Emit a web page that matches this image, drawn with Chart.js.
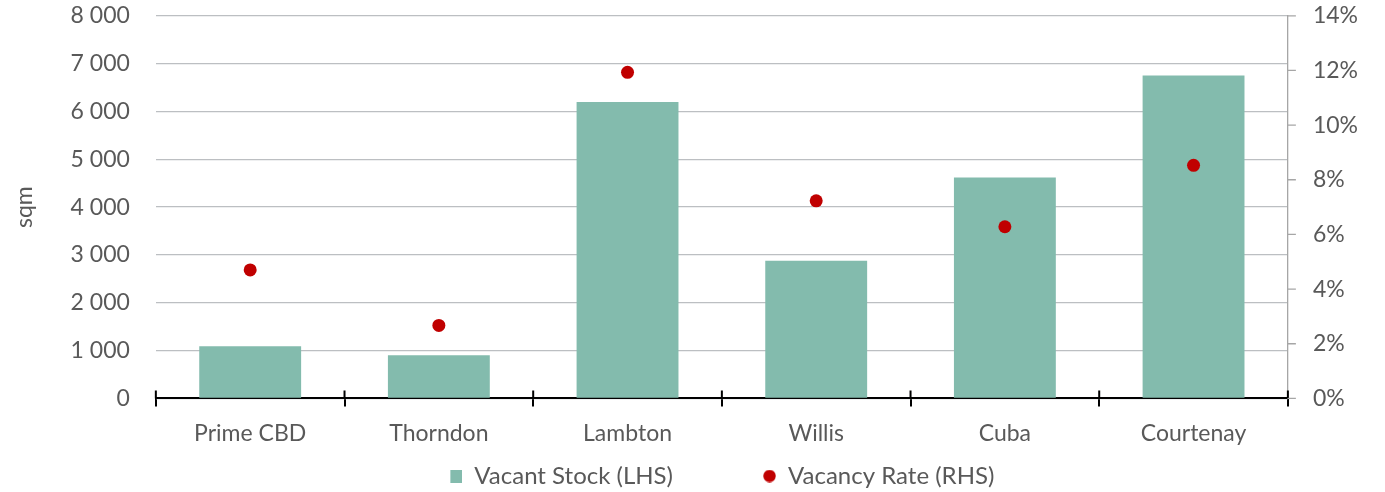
<!DOCTYPE html>
<html>
<head>
<meta charset="utf-8">
<script src="https://cdn.jsdelivr.net/npm/chart.js@4"></script>
<style>
  html, body { margin: 0; padding: 0; background: #fff; }
  #wrap { width: 1385px; height: 492px; }
</style>
</head>
<body>
<div id="wrap"><canvas id="vacancyChart"></canvas></div>
<script>
// Wellington office vacancy by precinct
var categories = ['Prime CBD', 'Thorndon', 'Lambton', 'Willis', 'Cuba', 'Courtenay'];
var vacantStock = [1090, 900, 6200, 2880, 4620, 6750];   // sqm, LHS
var vacancyRate = [4.7, 2.67, 11.93, 7.23, 6.28, 8.53];  // %, RHS
var stockTicks = [0, 1000, 2000, 3000, 4000, 5000, 6000, 7000, 8000];
var rateTicks = [0, 2, 4, 6, 8, 10, 12, 14];

var textColor = '#595959';
var barColor = '#83BBAD';
var dotColor = '#C00000';
var fontFamily = 'Lato, "Open Sans", sans-serif';

function spaced(v) {
  return String(v).replace(/\B(?=(\d{3})+(?!\d))/g, ' ');
}

// small legend markers (square for bars, dot for the rate)
function legendMarker(shape, color) {
  var c = document.createElement('canvas');
  c.width = 13;
  c.height = 13;
  var g = c.getContext('2d');
  g.fillStyle = color;
  if (shape === 'circle') {
    g.beginPath();
    g.arc(6.5, 6.5, 6.2, 0, Math.PI * 2);
    g.fill();
  } else {
    g.fillRect(1, 0, 12, 13);
  }
  return c;
}
var squareMarker = legendMarker('rect', barColor);
var dotMarker = legendMarker('circle', dotColor);

// Excel style ticks: cross ticks on the category axis, short outside ticks on the RHS axis
var axisTicks = {
  id: 'axisTicks',
  afterDraw: function (chart) {
    var x = chart.scales.x;
    var y1 = chart.scales.y1;
    var n = chart.data.labels.length;
    var ctx = chart.ctx;
    ctx.save();
    ctx.strokeStyle = '#000';
    ctx.lineWidth = 2;
    ctx.beginPath();
    for (var i = 0; i <= n; i++) {
      var px = x.left + i * (x.width / n);
      ctx.moveTo(px, x.top - 8);
      ctx.lineTo(px, x.top);
    }
    ctx.stroke();

    ctx.strokeStyle = '#A6A6A6';
    ctx.lineWidth = 1.3;
    ctx.beginPath();
    rateTicks.forEach(function (v) {
      var py = y1.getPixelForValue(v);
      ctx.moveTo(y1.left, py);
      ctx.lineTo(y1.left + 8, py);
    });
    ctx.stroke();
    ctx.restore();
  }
};

var ctx = document.getElementById('vacancyChart').getContext('2d');
var vacancyChart = new Chart(ctx, {
  data: {
    labels: categories,
    datasets: [
      {
        type: 'line',
        label: 'Vacancy Rate (RHS)',
        data: vacancyRate,
        yAxisID: 'y1',
        showLine: false,
        pointStyle: 'circle',
        pointRadius: 6.5,
        pointBackgroundColor: dotColor,
        pointBorderColor: dotColor,
        pointBorderWidth: 0,
        backgroundColor: dotColor,
        borderColor: dotColor,
        order: 1
      },
      {
        type: 'bar',
        label: 'Vacant Stock (LHS)',
        data: vacantStock,
        yAxisID: 'y',
        backgroundColor: barColor,
        borderColor: barColor,
        borderWidth: 0,
        barPercentage: 0.54,
        categoryPercentage: 1,
        order: 2
      }
    ]
  },
  options: {
    responsive: true,
    maintainAspectRatio: false,
    animation: false,
    layout: { padding: { left: 11, right: 25, top: 0, bottom: -6 } },
    plugins: {
      tooltip: { enabled: false },
      legend: {
        display: true,
        position: 'bottom',
        fullSize: false,
        labels: {
          usePointStyle: true,
          boxWidth: 13,
          boxHeight: 13,
          padding: 4,
          color: textColor,
          font: { family: fontFamily, size: 24 },
          generateLabels: function (chart) {
            var items = Chart.defaults.plugins.legend.labels.generateLabels(chart);
            items.reverse();
            items.forEach(function (it) {
              if (it.datasetIndex === 1) {
                it.pointStyle = squareMarker;
                it.text = it.text + '              ';
              } else {
                it.pointStyle = dotMarker;
              }
            });
            return items;
          }
        }
      }
    },
    scales: {
      x: {
        offset: true,
        grid: {
          offset: true,
          drawOnChartArea: false,
          drawTicks: true,
          tickLength: 8,
          color: '#000',
          lineWidth: 2
        },
        border: { display: true, color: '#000', width: 2 },
        ticks: {
          color: textColor,
          padding: 13,
          font: { family: fontFamily, size: 23 }
        }
      },
      y: {
        position: 'left',
        min: 0,
        max: 8000,
        afterBuildTicks: function (axis) {
          axis.ticks = stockTicks.map(function (v) { return { value: v }; });
        },
        grid: {
          color: '#BCBFC2',
          lineWidth: 1.3,
          drawTicks: true,
          tickLength: 24,
          tickColor: 'rgba(0,0,0,0)'
        },
        border: { display: false },
        title: {
          display: true,
          text: 'sqm',
          color: textColor,
          padding: { top: 0, bottom: 30 },
          font: { family: fontFamily, size: 23 }
        },
        ticks: {
          color: textColor,
          padding: 2,
          font: { family: fontFamily, size: 23 },
          callback: function (v) { return spaced(v); }
        }
      },
      y1: {
        position: 'right',
        min: 0,
        max: 14,
        afterBuildTicks: function (axis) {
          axis.ticks = rateTicks.map(function (v) { return { value: v }; });
        },
        grid: {
          drawOnChartArea: false,
          drawTicks: true,
          tickLength: 23,
          tickColor: 'rgba(0,0,0,0)'
        },
        border: { display: true, color: '#A6A6A6', width: 1.3 },
        ticks: {
          color: textColor,
          padding: 2,
          font: { family: fontFamily, size: 23 },
          callback: function (v) { return v + '%'; }
        }
      }
    }
  },
  plugins: [axisTicks]
});
</script>
</body>
</html>
